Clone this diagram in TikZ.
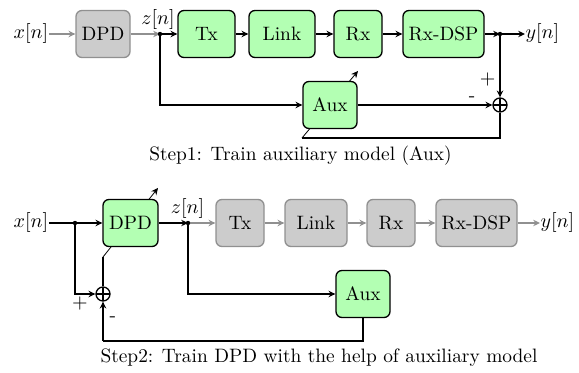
\documentclass[tikz,border=0pt]{standalone}
\usetikzlibrary{arrows.meta,backgrounds}
\definecolor{boxgreen}{HTML}{B3FFB3}
\definecolor{boxgray}{HTML}{CCCCCC}
\definecolor{linegray}{HTML}{909090}
\newcommand{\dfont}{\fontsize{9.7}{11.6}\selectfont}
\begin{document}
\begin{tikzpicture}[x=0.5pt,y=-0.5pt,
  font=\dfont,
  >={Stealth[length=3.4pt,width=3.2pt]},
  line width=0.65pt,
  blk/.style={draw, rounded corners=3pt, minimum height=23.5pt, inner sep=0pt},
  gblk/.style={blk, fill=boxgreen, draw=black},
  yblk/.style={blk, fill=boxgray, draw=linegray},
  gline/.style={draw=linegray, ->},
  bline/.style={draw=black, ->},
  dot/.style={circle, fill=black, inner sep=0pt, minimum size=2.2pt},
  sumc/.style={circle, draw=black, minimum size=7pt, inner sep=0pt, path picture={
     \draw (path picture bounding box.north) -- (path picture bounding box.south)
           (path picture bounding box.west) -- (path picture bounding box.east);}},
  lbl/.style={inner sep=0pt},
  captext/.style={inner sep=0pt}
]
\useasboundingbox (0,0) rectangle (579,373);

% ---------------- Step 1 ----------------
\node[lbl] (xin1) at (31,34) {$x[n]$};
\node[yblk, minimum width=27pt] (dpd1) at (103,34) {DPD};
\coordinate (j1) at (160,34);
\node[lbl] (z1) at (158,20) {$z[n]$};
\node[gblk, minimum width=28.5pt] (tx1) at (206.5,34) {Tx};
\node[gblk, minimum width=33pt] (link1) at (282,34) {Link};
\node[gblk, minimum width=24pt] (rx1) at (358,34) {Rx};
\node[gblk, minimum width=40.5pt] (dsp1) at (443.5,34) {Rx-DSP};
\coordinate (j2) at (500,34);
\node[lbl, anchor=west] (yout1) at (525,34) {$y[n]$};
\node[sumc] (sum1) at (500,105) {};
\coordinate (fb1a) at (500,138);
\coordinate (fb1b) at (302,138);
\coordinate (adj1) at (358,71);
\begin{scope}[on background layer]
  \draw[bline] (fb1b) -- (adj1);
\end{scope}
\node[gblk, minimum width=27pt] (aux1) at (330,105) {Aux};

\draw[gline] (xin1) -- (dpd1);
\draw[gline] (dpd1) -- (j1);
\draw[bline] (j1) -- (tx1);
\draw[bline] (tx1) -- (link1);
\draw[bline] (link1) -- (rx1);
\draw[bline] (rx1) -- (dsp1);
\draw[bline] (dsp1) -- (j2);
\draw[bline] (j2) -- (yout1);
\draw[bline] (j2) -- node[lbl, pos=0.72, left=2pt] {$+$} (sum1);
\draw[bline] (j1) |- (aux1);
\draw[bline] (aux1) -- node[lbl, pos=0.85, above=1.5pt] {-} (sum1);
\draw[black] (sum1) -- (fb1a) -- (fb1b);
\node[dot] at (j1) {};
\node[dot] at (j2) {};
\node[captext] (cap1) at (300.5,156) {Step1: Train auxiliary model (Aux)};

% ---------------- Step 2 ----------------
\node[lbl] (xin2) at (31,223) {$x[n]$};
\coordinate (j3) at (75,223);
\coordinate (s2a) at (103,257);
\coordinate (adj2) at (158,188);
\begin{scope}[on background layer]
  \draw[bline] (s2a) -- (adj2);
\end{scope}
\node[gblk, minimum width=27.5pt] (dpd2) at (130.5,223) {DPD};
\coordinate (j4) at (188,223);
\node[lbl] (z2) at (187.5,209) {$z[n]$};
\node[yblk, minimum width=24pt] (tx2) at (240,223) {Tx};
\node[yblk, minimum width=31pt] (link2) at (316,223) {Link};
\node[yblk, minimum width=24pt] (rx2) at (391,223) {Rx};
\node[yblk, minimum width=40.5pt] (dsp2) at (476.5,223) {Rx-DSP};
\node[lbl, anchor=west] (yout2) at (540,223) {$y[n]$};
\node[gblk, minimum width=27pt] (aux2) at (363,294) {Aux};
\node[sumc] (sum2) at (103,294) {};
\coordinate (fb2a) at (363,341);
\coordinate (fb2b) at (103,341);

\draw[black] (xin2) -- (j3);
\draw[bline] (j3) -- (dpd2);
\draw[bline] (dpd2) -- (j4);
\draw[gline] (j4) -- (tx2);
\draw[gline] (tx2) -- (link2);
\draw[gline] (link2) -- (rx2);
\draw[gline] (rx2) -- (dsp2);
\draw[gline] (dsp2) -- (yout2);
\draw[bline] (j4) |- (aux2);
\draw[bline] (j3) |- (sum2);
\node[lbl] at (80,304) {$+$};
\draw[black] (aux2) -- (fb2a) -- (fb2b);
\draw[bline] (fb2b) -- node[lbl, pos=0.55, right=3pt] {-} (sum2);
\draw[black] (sum2) -- (s2a);
\node[dot] at (j3) {};
\node[dot] at (j4) {};
\node[captext] (cap2) at (319,358) {Step2: Train DPD with the help of auxiliary model};
\end{tikzpicture}
\end{document}
